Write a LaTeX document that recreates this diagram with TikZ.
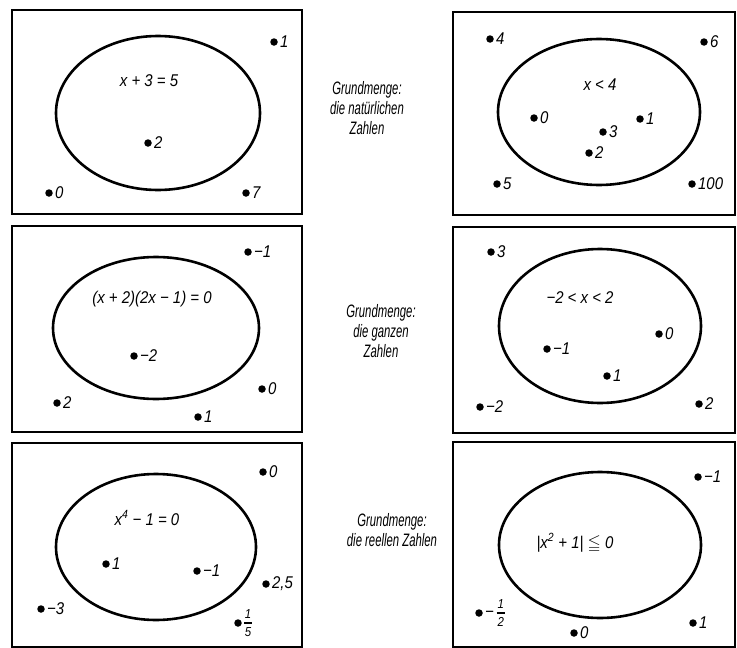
\documentclass[tikz,border=0pt]{standalone}
\usepackage{fontspec}
\usepackage{amsmath,amssymb}
\setmainfont[FakeStretch=0.88]{Liberation Sans}
\newfontfamily\schmal[FakeStretch=0.63]{Liberation Sans}
\newcommand{\bruch}[2]{\ensuremath{\vcenter{\hbox{\fontsize{13}{13}\selectfont\itshape
  \shortstack{#1\\[1pt]\rule{8pt}{1.2pt}\\[1pt]#2}}}}}

\begin{document}
\begin{tikzpicture}[x=1pt, y=-1pt,
  font=\fontsize{17}{20}\selectfont\itshape,
  kasten/.style={line width=1.8pt},
  menge/.style={line width=2.6pt},
  grund/.style={align=center, font=\schmal\fontsize{18}{20}\selectfont\itshape},
  punkt/.style={circle, fill, inner sep=0pt, minimum size=7.5pt},
  every label/.style={inner sep=1pt},
  label distance=1pt]
  \useasboundingbox (0,0) rectangle (737,648);

  % Kaesten
  \draw[kasten] (12,10) rectangle (302,214);
  \draw[kasten] (453,12) rectangle (735,215);
  \draw[kasten] (12,226) rectangle (302,432);
  \draw[kasten] (453,227) rectangle (735,433);
  \draw[kasten] (12,443) rectangle (302,647);
  \draw[kasten] (453,442) rectangle (735,647);

  % Mengen
  \draw[menge] (158,113) ellipse [x radius=102, y radius=77];
  \draw[menge] (599,112) ellipse [x radius=101, y radius=73];
  \draw[menge] (156,328) ellipse [x radius=103, y radius=71];
  \draw[menge] (600,326) ellipse [x radius=101, y radius=77];
  \draw[menge] (156,547) ellipse [x radius=100, y radius=73];
  \draw[menge] (600,545) ellipse [x radius=101, y radius=73];

  % Grundmengen
  \node[grund] (g1) at (367,108) {Grundmenge:\\die natürlichen\\Zahlen};
  \node[grund] (g2) at (381,331) {Grundmenge:\\die ganzen\\Zahlen};
  \node[grund] (g3) at (392,530) {Grundmenge:\\die reellen Zahlen};

  % Aussageformen
  \node (f1) at (149,81) {x + 3 = 5};
  \node (f2) at (600,85) {x < 4};
  \node (f3) at (152,299) {(x + 2)(2x − 1) = 0};
  \node (f4) at (580,298) {−2 < x < 2};
  \node (f5) at (147,518) {x\textsuperscript{4} − 1 = 0};
  \node (f6) at (575,543) {|x\textsuperscript{2} + 1| \(\leqq\) 0};

  % Elemente oben
  \node[punkt, label={right:1}] (a1) at (274,42) {};
  \node[punkt, label={right:2}] (a2) at (148,143) {};
  \node[punkt, label={right:0}] (a3) at (49,193) {};
  \node[punkt, label={right:7}] (a4) at (246,193) {};
  \node[punkt, label={right:4}] (b1) at (490,39) {};
  \node[punkt, label={right:6}] (b2) at (704,42) {};
  \node[punkt, label={right:0}] (b3) at (534,118) {};
  \node[punkt, label={right:1}] (b4) at (640,119) {};
  \node[punkt, label={right:3}] (b5) at (603,132) {};
  \node[punkt, label={right:2}] (b6) at (589,153) {};
  \node[punkt, label={right:5}] (b7) at (497,184) {};
  \node[punkt, label={right:100}] (b8) at (692,184) {};

  % Elemente Mitte
  \node[punkt, label={right:−1}] (c1) at (248,252) {};
  \node[punkt, label={right:−2}] (c2) at (134,356) {};
  \node[punkt, label={right:0}] (c3) at (262,389) {};
  \node[punkt, label={right:2}] (c4) at (57,403) {};
  \node[punkt, label={right:1}] (c5) at (198,417) {};
  \node[punkt, label={right:3}] (d1) at (491,252) {};
  \node[punkt, label={right:0}] (d2) at (659,334) {};
  \node[punkt, label={right:−1}] (d3) at (547,349) {};
  \node[punkt, label={right:1}] (d4) at (607,376) {};
  \node[punkt, label={right:−2}] (d5) at (480,407) {};
  \node[punkt, label={right:2}] (d6) at (699,404) {};

  % Elemente unten
  \node[punkt, label={right:0}] (e1) at (263,472) {};
  \node[punkt, label={right:1}] (e2) at (106,564) {};
  \node[punkt, label={right:−1}] (e3) at (197,571) {};
  \node[punkt, label={right:{2,5}}] (e4) at (266,584) {};
  \node[punkt, label={right:−3}] (e5) at (41,609) {};
  \node[punkt, label={right:\bruch{1}{5}}] (e6) at (238,623) {};
  \node[punkt, label={right:−1}] (h1) at (698,477) {};
  \node[punkt, label={right:−\,\bruch{1}{2}}] (h2) at (479,613) {};
  \node[punkt, label={right:0}] (h3) at (574,633) {};
  \node[punkt, label={right:1}] (h4) at (693,623) {};
\end{tikzpicture}
\end{document}
